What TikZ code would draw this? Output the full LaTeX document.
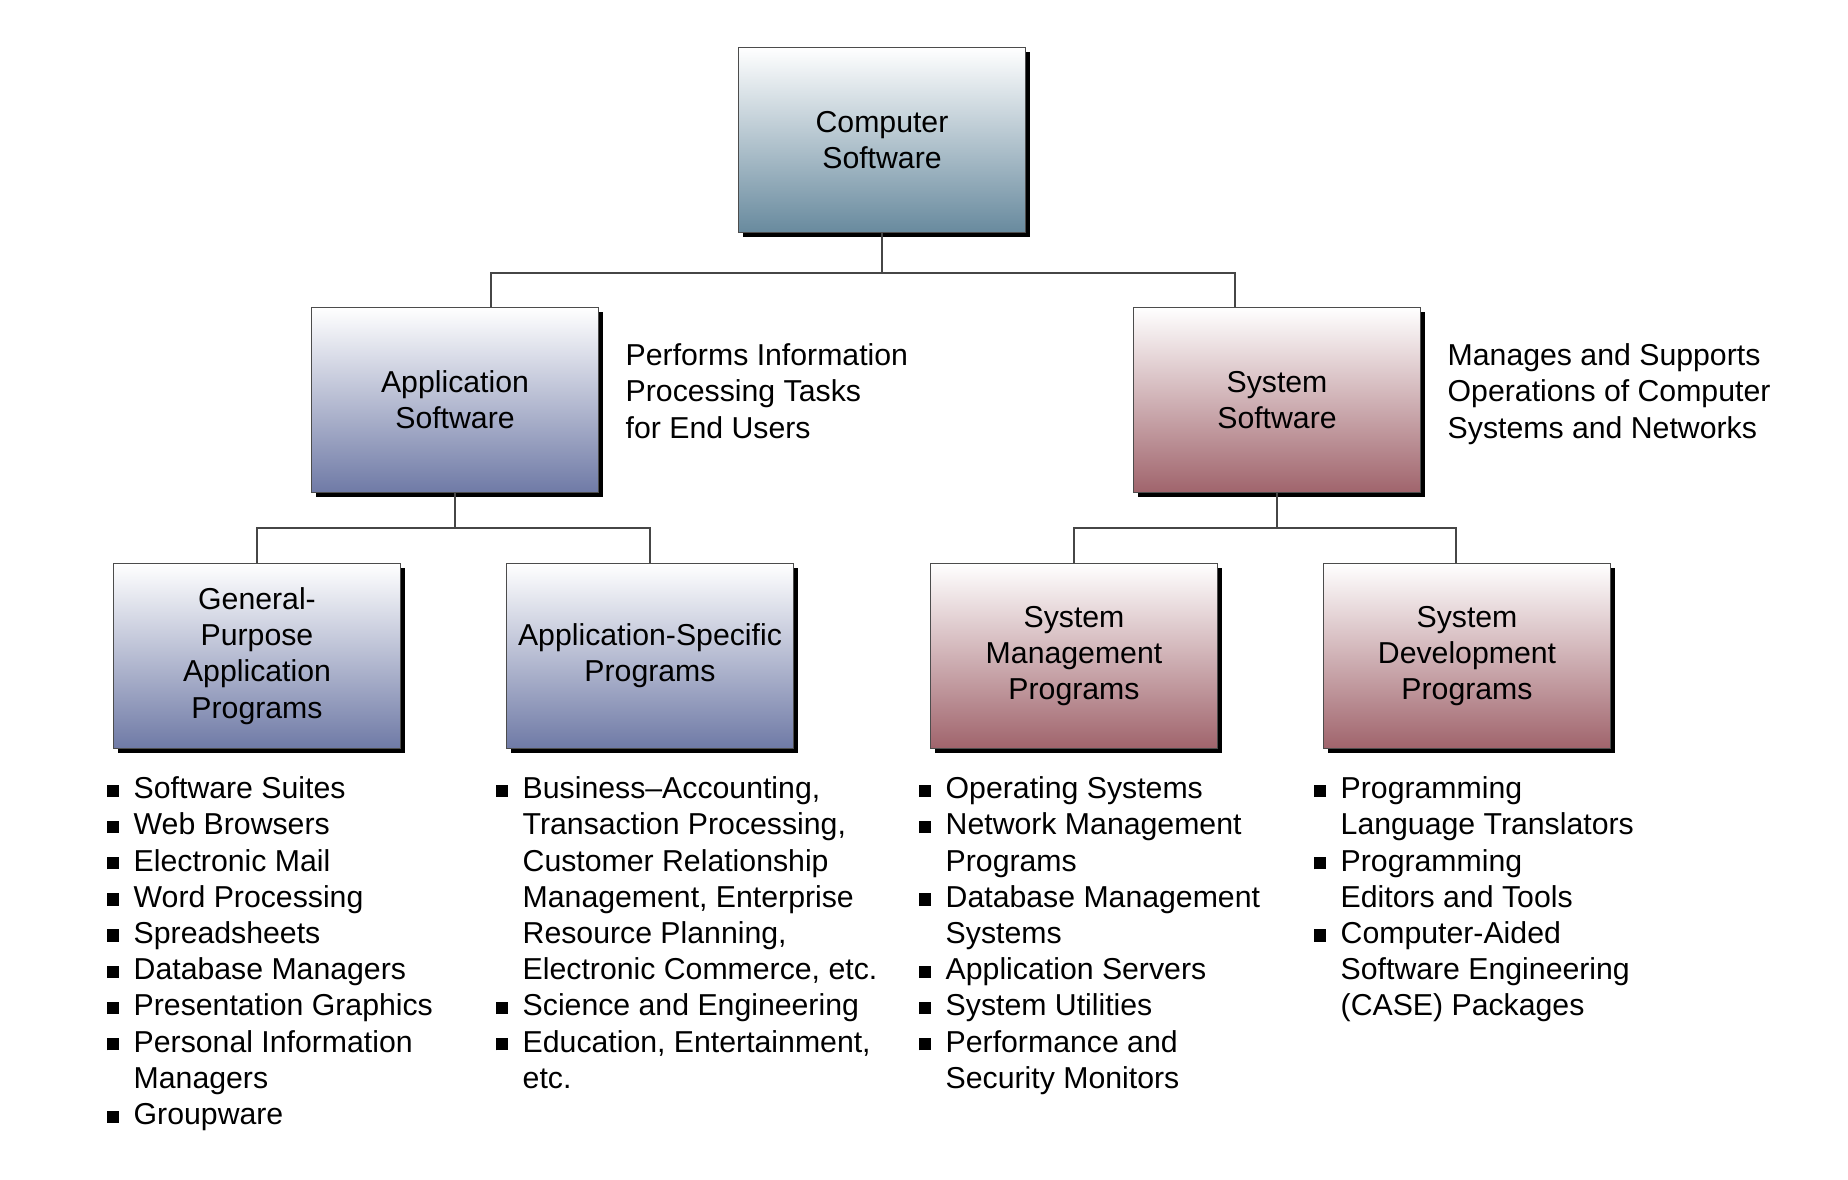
\documentclass[tikz,border=0pt]{standalone}
\usepackage{fontspec}
\setmainfont{Liberation Sans}
\usetikzlibrary{positioning,calc,shadows}
\definecolor{compblue}{RGB}{104,138,158}
\definecolor{appblue}{RGB}{111,122,166}
\definecolor{sysred}{RGB}{160,100,108}
\definecolor{linegray}{RGB}{70,70,70}
\newcommand{\bul}{\llap{\rule[0.5pt]{3.5pt}{3.5pt}\hspace{4.2pt}}}

\begin{document}
\begin{tikzpicture}[x=0.01cm,y=-0.01cm,
	every node/.style={font=\fontsize{8.6}{10.3}\selectfont},
	box/.style={draw=black!70,line width=0.4pt,minimum width=2.87cm,minimum height=1.85cm,align=center,inner sep=1pt,top color=white,drop shadow={shadow xshift=1.2pt,shadow yshift=-1.2pt,fill=black,opacity=1}},
	compbox/.style={box,bottom color=compblue},
	appbox/.style={box,bottom color=appblue},
	sysbox/.style={box,bottom color=sysred},
	link/.style={draw=linegray,line width=0.7pt},
	note/.style={anchor=north west,align=left,inner sep=0pt}]
%		\draw[lightgray] (0,0) grid[step=100] (1848,1180);
		\useasboundingbox (0,0) rectangle (1848,1180);
		% boxes
		\node[compbox] (comp) at (882,140) {Computer\\Software};
		\node[appbox] (app) at (455,400) {Application\\Software};
		\node[sysbox] (sys) at (1277,400) {System\\Software};
		\node[appbox] (gen) at (257,656) {General-\\Purpose\\Application\\Programs};
		\node[appbox] (spec) at (650,656) {Application-Specific\\Programs};
		\node[sysbox] (mgmt) at (1074,656) {System\\Management\\Programs};
		\node[sysbox] (dev) at (1467,656) {System\\Development\\Programs};
		% connectors
		\draw[link] (comp.south) -- ++(0,40) -| ($(app.north)+(36,0)$);
		\draw[link] (comp.south) -- ++(0,40) -| ($(sys.north)+(-42,0)$);
		\draw[link] (app.south) -- ++(0,35) -| (gen.north);
		\draw[link] (app.south) -- ++(0,35) -| (spec.north);
		\draw[link] (sys.south) -- ++(0,35) -| (mgmt.north);
		\draw[link] (sys.south) -- ++(0,35) -| ($(dev.north)+(-11,0)$);
		% notes
		\node[note] (appnote) at (625,343) {Performs Information\\Processing Tasks\\for End Users};
		\node[note] (sysnote) at (1447,343) {Manages and Supports\\Operations of Computer\\Systems and Networks};
		\node[note] (genlist) at (133,776) {\bul Software Suites\\\bul Web Browsers\\\bul Electronic Mail\\\bul Word Processing\\\bul Spreadsheets\\\bul Database Managers\\\bul Presentation Graphics\\\bul Personal Information\\Managers\\\bul Groupware};
		\node[note] (speclist) at (522,776) {\bul Business--Accounting,\\Transaction Processing,\\Customer Relationship\\Management, Enterprise\\Resource Planning,\\Electronic Commerce, etc.\\\bul Science and Engineering\\\bul Education, Entertainment,\\etc.};
		\node[note] (mgmtlist) at (945,776) {\bul Operating Systems\\\bul Network Management\\Programs\\\bul Database Management\\Systems\\\bul Application Servers\\\bul System Utilities\\\bul Performance and\\Security Monitors};
		\node[note] (devlist) at (1340,776) {\bul Programming\\Language Translators\\\bul Programming\\Editors and Tools\\\bul Computer-Aided\\Software Engineering\\(CASE) Packages};
	\end{tikzpicture}
\end{document}
